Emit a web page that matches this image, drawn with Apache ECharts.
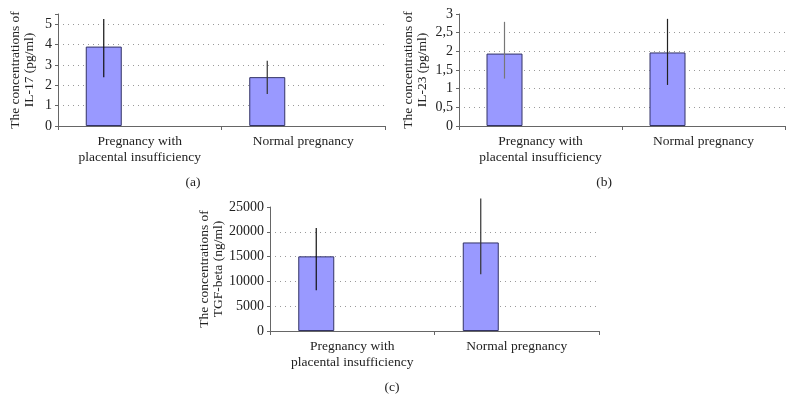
<!DOCTYPE html>
<html>
<head>
<meta charset="utf-8">
<script src="https://cdn.jsdelivr.net/npm/echarts@6/dist/echarts.min.js"></script>
<style>
  html, body { margin: 0; padding: 0; background: #fff; }
  #chart { width: 797px; height: 412px; }
</style>
</head>
<body>
<div id="chart"></div>
<script>
// categories shared by the three panels
var categories = ['Pregnancy with\nplacental insufficiency', 'Normal pregnancy'];

// (a) IL-17
var il17Mean = [3.9, 2.4];
var il17Low = [2.4, 1.57];
var il17High = [5.25, 3.2];

// (b) IL-23
var il23Mean = [1.94, 1.97];
var il23Low = [1.27, 1.1];
var il23High = [2.79, 2.87];

// (c) TGF-beta
var tgfMean = [15050, 17850];
var tgfLow = [8200, 11430];
var tgfHigh = [20770, 26700];

var panelLabels = ['(a)', '(b)', '(c)'];
var yNames = [
    'The concentrations of\nIL-17 (pg/ml)',
    'The concentrations of\nIL-23 (pg/ml)',
    'The concentrations of\nTGF-beta (ng/ml)'
];

var FONT = 'Liberation Serif';
var BAR_W = 36;
var txt = '#222';
var axisCol = '#666';
var gridCol = '#9a9a9a';

var chart = echarts.init(document.getElementById('chart'), null, {renderer: 'canvas'});

function yAxis(idx, min, max, step, gap, fmt, colors) {
    return {
        type: 'value', gridIndex: idx, min: min, max: max, interval: step,
        name: yNames[idx], nameLocation: 'middle', nameGap: gap, nameRotate: 90,
        nameTextStyle: {fontFamily: FONT, fontSize: 13.5, color: txt, lineHeight: 14},
        axisLine: {show: true, lineStyle: {color: axisCol, width: 1}},
        axisTick: {show: true, length: 3, lineStyle: {color: axisCol}},
        axisLabel: {fontFamily: FONT, fontSize: 14, color: txt, margin: 6, formatter: fmt},
        splitLine: {show: true, lineStyle: {color: colors, type: [1, 4], width: 1}}
    };
}

function xAxis(idx) {
    return {
        type: 'category', gridIndex: idx, data: categories,
        axisLine: {show: true, lineStyle: {color: axisCol, width: 1}},
        axisTick: {show: true, length: 4, lineStyle: {color: axisCol}},
        axisLabel: {fontFamily: FONT, fontSize: 13.5, color: txt, lineHeight: 16, margin: 7, interval: 0}
    };
}

function bars(idx, values) {
    return [{
        type: 'bar', xAxisIndex: idx, yAxisIndex: idx, data: values,
        barWidth: BAR_W, barGap: '100%',
        itemStyle: {color: '#9999ff', borderColor: '#333366', borderWidth: 1},
        silent: true
    }, {
        // empty second slot so the bars sit left of the band centre, as in Excel
        type: 'bar', xAxisIndex: idx, yAxisIndex: idx, data: [null, null],
        barWidth: BAR_W, barGap: '100%', silent: true
    }];
}

function errBars(idx, low, high, colors) {
    var data = low.map(function (l, i) { return [i, l, high[i]]; });
    return {
        type: 'custom', xAxisIndex: idx, yAxisIndex: idx, data: data, clip: false, z: 5,
        renderItem: function (params, api) {
            var i = api.value(0);
            var p1 = api.coord([i, api.value(1)]);
            var p2 = api.coord([i, api.value(2)]);
            var x = p1[0] - BAR_W;
            return {
                type: 'line',
                shape: {x1: x, y1: p1[1], x2: x, y2: p2[1]},
                style: {stroke: colors[i], lineWidth: 1.2}
            };
        }
    };
}

function label(text, x, y) {
    return {
        type: 'text', x: x, y: y,
        style: {text: text, fontFamily: FONT, fontSize: 13.5, fill: txt, align: 'center', verticalAlign: 'middle'}
    };
}

var fmtInt = function (v) { return v % 1 === 0 ? String(v) : ''; };
var fmtComma = function (v) { return v > 3 ? '' : String(v).replace('.', ','); };
var fmtPlain = function (v) { return String(v); };

var option = {
    backgroundColor: '#fff',
    animation: false,
    grid: [
        {left: 58, right: 412, top: 14, bottom: 286},
        {left: 459, right: 12, top: 14, bottom: 286},
        {left: 270, right: 198, top: 207, bottom: 81}
    ],
    xAxis: [xAxis(0), xAxis(1), xAxis(2)],
    yAxis: [
        yAxis(0, 0, 5.5, 1, 22, fmtInt,
            ['transparent', gridCol, gridCol, gridCol, gridCol, gridCol, 'transparent']),
        yAxis(1, 0, 3, 0.5, 30, fmtComma,
            ['transparent', gridCol, gridCol, gridCol, gridCol, gridCol, 'transparent']),
        yAxis(2, 0, 25000, 5000, 44, fmtPlain,
            ['transparent', gridCol, gridCol, gridCol, gridCol, 'transparent'])
    ],
    series: [].concat(
        bars(0, il17Mean), [errBars(0, il17Low, il17High, ['#111', '#333'])],
        bars(1, il23Mean), [errBars(1, il23Low, il23High, ['#777', '#222'])],
        bars(2, tgfMean), [errBars(2, tgfLow, tgfHigh, ['#111', '#333'])]
    ),
    graphic: [
        label(panelLabels[0], 193, 182),
        label(panelLabels[1], 604, 182),
        label(panelLabels[2], 392, 387)
    ]
};

chart.setOption(option);
</script>
</body>
</html>
